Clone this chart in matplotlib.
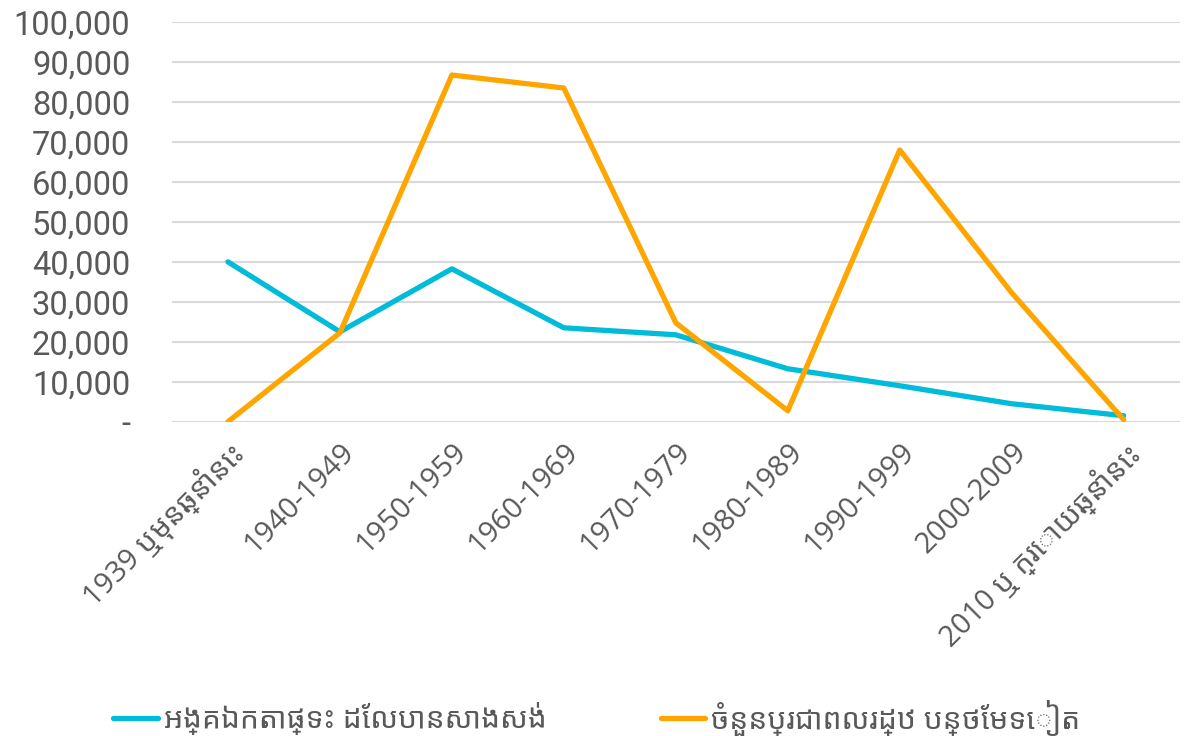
import matplotlib
matplotlib.use("Agg")
import matplotlib.pyplot as plt
from matplotlib.ticker import FuncFormatter

# categories and values
categories = ["1939 ឬមុនឆ្នាំនេះ", "1940-1949", "1950-1959", "1960-1969", "1970-1979",
              "1980-1989", "1990-1999", "2000-2009", "2010 ឬ ក្រោយឆ្នាំនេះ"]
houses_built = [40000, 22500, 38250, 23500, 21750, 13250, 9000, 4500, 1500]
extra_people = [0, 22250, 86750, 83500, 24750, 2750, 68000, 32250, 500]
series_names = ["អង្គឯកតាផ្ទះ ដែលបានសាងសង់", "ចំនួនប្រជាពលរដ្ឋ បន្ថែមទៀត"]

# Khmer glyphs come from Noto Sans Khmer, latin from Open Sans / Roboto
plt.rcParams["font.family"] = ["Open Sans", "Noto Sans Khmer", "DejaVu Sans"]

grey = "#595959"
fig, ax = plt.subplots(figsize=(11.94, 7.36), dpi=100)
fig.subplots_adjust(left=0.144, right=0.988, top=0.97, bottom=0.427)

x = range(len(categories))
ax.plot(x, houses_built, color="#00bcd8", lw=3.8, solid_capstyle="round", label=series_names[0])
ax.plot(x, extra_people, color="#ffa500", lw=3.8, solid_capstyle="round", label=series_names[1])

ax.set_xlim(-0.5, len(categories) - 0.5)
ax.set_ylim(0, 100000)
ax.set_yticks(range(0, 100001, 10000))
ax.yaxis.set_major_formatter(FuncFormatter(lambda v, p: "-" if v == 0 else f"{int(v):,}"))
ax.grid(axis="y", color="#d9d9d9", lw=1.5)
ax.set_axisbelow(True)
for s in ax.spines.values():
    s.set_visible(False)
ax.tick_params(axis="both", length=0, labelcolor=grey)
ax.tick_params(axis="y", pad=30)
ax.tick_params(axis="x", pad=11)
for lab in ax.get_yticklabels():
    lab.set_fontfamily(["Roboto", "DejaVu Sans"])
    lab.set_fontsize(23.5)
ax.set_xticks(list(x))
ax.set_xticklabels(categories, rotation=45, ha="right", rotation_mode="anchor", fontsize=21)

fig.legend(loc="center", bbox_to_anchor=(0.5, 0.025), ncol=2, frameon=False,
           fontsize=21.5, labelcolor=grey, handlelength=1.5, handletextpad=0.2, columnspacing=3.8)

fig.savefig("out.png", dpi=100)
